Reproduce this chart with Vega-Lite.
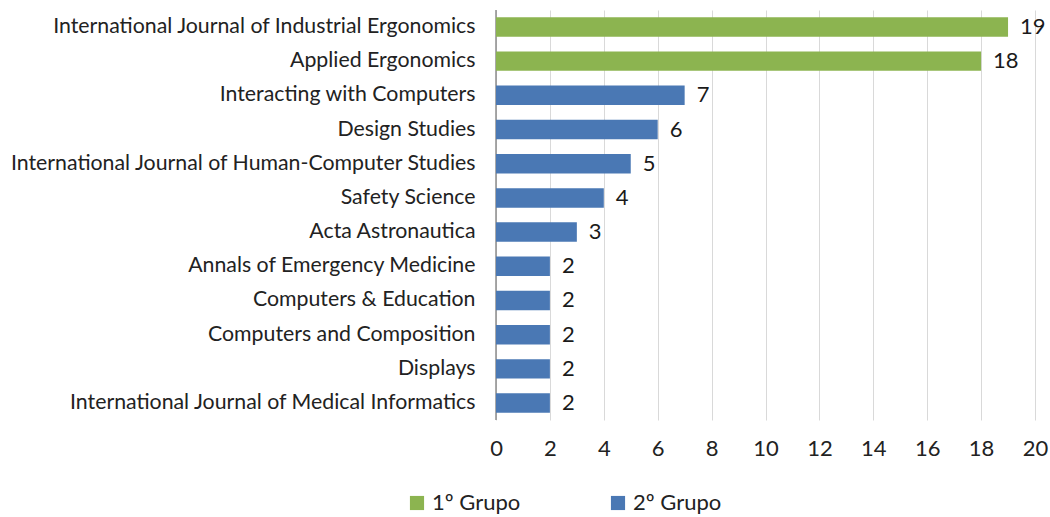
{
  "$schema": "https://vega.github.io/schema/vega-lite/v6.json",
  "width": 539,
  "height": 410,
  "autosize": {"type": "none"},
  "padding": {"left": 496, "top": 10, "right": 15, "bottom": 97},
  "background": "white",
  "config": {
    "view": {"stroke": null},
    "font": "Lato",
    "axis": {"labelFont": "Lato", "labelColor": "#222222", "domain": false, "ticks": false}
  },
  "data": {
    "values": [
      {"journal": "International Journal of Industrial Ergonomics", "count": 19, "grupo": "1º Grupo"},
      {"journal": "Applied Ergonomics", "count": 18, "grupo": "1º Grupo"},
      {"journal": "Interacting with Computers", "count": 7, "grupo": "2º Grupo"},
      {"journal": "Design Studies", "count": 6, "grupo": "2º Grupo"},
      {"journal": "International Journal of Human-Computer Studies", "count": 5, "grupo": "2º Grupo"},
      {"journal": "Safety Science", "count": 4, "grupo": "2º Grupo"},
      {"journal": "Acta Astronautica", "count": 3, "grupo": "2º Grupo"},
      {"journal": "Annals of Emergency Medicine", "count": 2, "grupo": "2º Grupo"},
      {"journal": "Computers & Education", "count": 2, "grupo": "2º Grupo"},
      {"journal": "Computers and Composition", "count": 2, "grupo": "2º Grupo"},
      {"journal": "Displays", "count": 2, "grupo": "2º Grupo"},
      {"journal": "International Journal of Medical Informatics", "count": 2, "grupo": "2º Grupo"}
    ]
  },
  "encoding": {
    "y": {
      "field": "journal",
      "type": "nominal",
      "sort": null,
      "title": null,
      "scale": {"paddingInner": 0.43, "paddingOuter": 0.21},
      "axis": {"labelFontSize": 21.3, "labelPadding": 21, "grid": false, "labelLimit": 520}
    },
    "x": {
      "field": "count",
      "type": "quantitative",
      "title": null,
      "scale": {"domain": [0, 20], "nice": false},
      "axis": {
        "values": [0, 2, 4, 6, 8, 10, 12, 14, 16, 18, 20],
        "labelFontSize": 22,
        "labelPadding": 18,
        "labelFlush": false,
        "grid": true,
        "gridColor": "#d9d9d9",
        "gridWidth": 1
      }
    }
  },
  "layer": [
    {
      "mark": {"type": "rule", "color": "#8c8c8c", "strokeWidth": 1.5},
      "data": {"values": [{"v": 0}]},
      "encoding": {"x": {"field": "v", "type": "quantitative"}, "y": null}
    },
    {
      "mark": {"type": "bar"},
      "encoding": {
        "color": {
          "field": "grupo",
          "type": "nominal",
          "scale": {"domain": ["1º Grupo", "2º Grupo"], "range": ["#8cb450", "#4a78b4"]},
          "legend": {
            "title": null,
            "orient": "none",
            "legendX": -90,
            "legendY": 482,
            "direction": "horizontal",
            "symbolType": "square",
            "symbolSize": 200,
            "symbolStrokeWidth": 0,
            "labelFontSize": 22,
            "labelFont": "Lato",
            "labelColor": "#222222",
            "labelOffset": 4,
            "columnPadding": 86
          }
        }
      }
    },
    {
      "mark": {"type": "text", "align": "left", "dx": 12, "fontSize": 22, "color": "#1a1a1a"},
      "encoding": {"text": {"field": "count", "type": "quantitative"}}
    }
  ]
}
